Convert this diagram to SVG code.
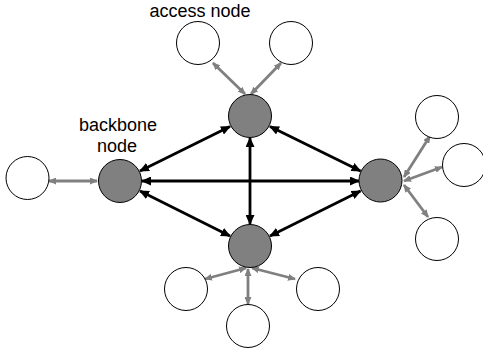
<svg xmlns="http://www.w3.org/2000/svg" width="483" height="354" viewBox="0 0 483 354">
  <defs>
    <marker id="headBlack" viewBox="0 0 10 9" refX="9" refY="4.5" markerWidth="10" markerHeight="9" markerUnits="userSpaceOnUse" orient="auto-start-reverse">
      <path d="M0,0 L10,4.5 L0,9 z" fill="#000"/>
    </marker>
    <marker id="headGray" viewBox="0 0 8 7" refX="7" refY="3.5" markerWidth="8" markerHeight="7" markerUnits="userSpaceOnUse" orient="auto-start-reverse">
      <path d="M0,0 L8,3.5 L0,7 z" fill="#808080"/>
    </marker>
    <style>
      .backbone { fill: #808080; stroke: #000; stroke-width: 1; }
      .access { fill: #fff; stroke: #000; stroke-width: 1; }
      .trunk { stroke: #000; stroke-width: 2.8; fill: none; marker-start: url(#headBlack); marker-end: url(#headBlack); }
      .spur { stroke: #808080; stroke-width: 2.8; fill: none; marker-start: url(#headGray); marker-end: url(#headGray); }
      .label { font-family: "Liberation Sans", Arial, sans-serif; font-size: 18px; fill: #000; text-anchor: middle; }
    </style>
  </defs>

  <!-- connectors -->
  <g id="connectors">
    <!-- backbone trunks -->
    <line class="trunk" x1="140" y1="171" x2="230" y2="126.5"/>
    <line class="trunk" x1="360.5" y1="171" x2="270" y2="126.5"/>
    <line class="trunk" x1="140" y1="191" x2="230" y2="236"/>
    <line class="trunk" x1="360.5" y1="191" x2="270" y2="236"/>
    <line class="trunk" x1="142" y1="181" x2="359" y2="181"/>
    <line class="trunk" x1="250" y1="138" x2="250" y2="224"/>
    <!-- access spurs -->
    <line class="spur" x1="245" y1="94" x2="213" y2="63"/>
    <line class="spur" x1="251" y1="94" x2="281" y2="63"/>
    <line class="spur" x1="49" y1="181" x2="97" y2="181"/>
    <line class="spur" x1="404" y1="177" x2="430" y2="136"/>
    <line class="spur" x1="404" y1="181" x2="442" y2="167"/>
    <line class="spur" x1="404" y1="185" x2="428" y2="217"/>
    <line class="spur" x1="246" y1="268" x2="205" y2="279"/>
    <line class="spur" x1="252" y1="268" x2="295" y2="279"/>
    <line class="spur" x1="248" y1="269" x2="248" y2="304"/>
  </g>

  <!-- backbone nodes -->
  <g id="bb-top"><circle class="backbone" cx="250" cy="116" r="21.5"/></g>
  <g id="bb-left"><circle class="backbone" cx="120" cy="181" r="21.5"/></g>
  <g id="bb-right"><circle class="backbone" cx="380.5" cy="180.5" r="21.5"/></g>
  <g id="bb-bottom"><circle class="backbone" cx="250" cy="246" r="21.5"/></g>

  <!-- access nodes -->
  <g id="acc-top-left"><circle class="access" cx="198" cy="43" r="21.5"/></g>
  <g id="acc-top-right"><circle class="access" cx="291" cy="43" r="21.5"/></g>
  <g id="acc-left"><circle class="access" cx="27.5" cy="178" r="21.5"/></g>
  <g id="acc-right-upper"><circle class="access" cx="437" cy="117" r="21.5"/></g>
  <g id="acc-right-middle"><circle class="access" cx="464" cy="165" r="21.5"/></g>
  <g id="acc-right-lower"><circle class="access" cx="437" cy="239" r="21.5"/></g>
  <g id="acc-bottom-left"><circle class="access" cx="186" cy="289" r="21.5"/></g>
  <g id="acc-bottom-right"><circle class="access" cx="318" cy="289" r="21.5"/></g>
  <g id="acc-bottom"><circle class="access" cx="248" cy="326" r="21.5"/></g>

  <!-- labels -->
  <g id="label-access"><text class="label" x="200" y="17">access node</text></g>
  <g id="label-backbone">
    <text class="label" x="118" y="131">backbone</text>
    <text class="label" x="117" y="152">node</text>
  </g>
</svg>
